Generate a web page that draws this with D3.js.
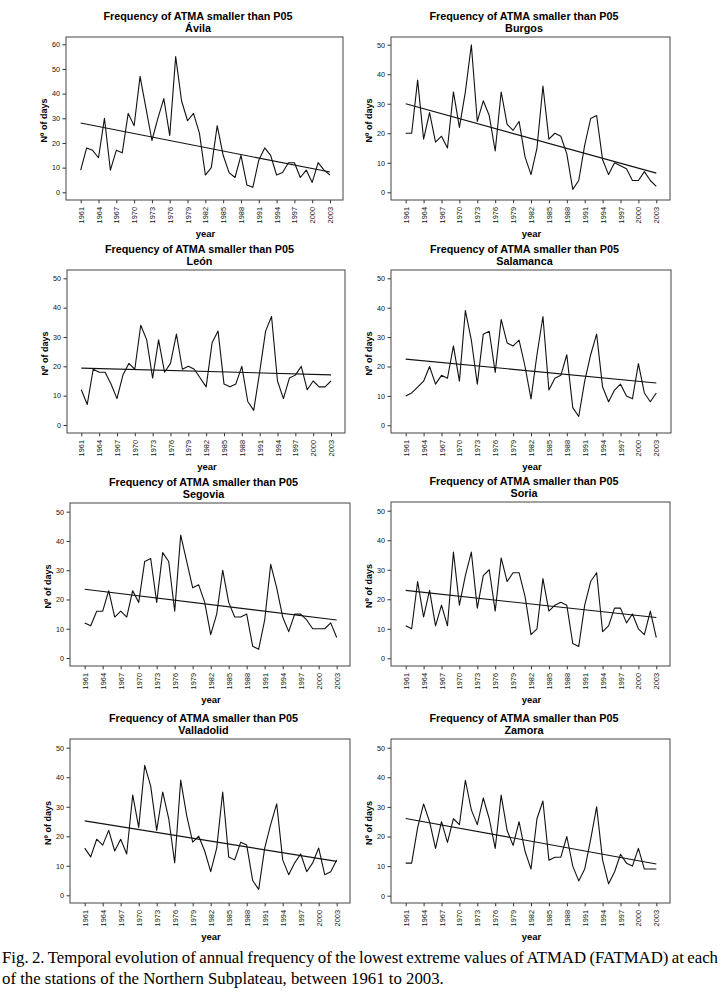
<!DOCTYPE html>
<html><head><meta charset="utf-8">
<script src="https://cdn.jsdelivr.net/npm/d3@7"></script>
<style>
html,body{margin:0;padding:0;background:#fff;}
svg{display:block;}
</style></head>
<body>
<svg id="chart" width="725" height="992"></svg>
<script>
// ---------- DATA ----------
const years = [1961,1962,1963,1964,1965,1966,1967,1968,1969,1970,1971,1972,1973,1974,1975,1976,1977,1978,1979,1980,1981,1982,1983,1984,1985,1986,1987,1988,1989,1990,1991,1992,1993,1994,1995,1996,1997,1998,1999,2000,2001,2002,2003];
const tickYears = [1961,1964,1967,1970,1973,1976,1979,1982,1985,1988,1991,1994,1997,2000,2003];
const stations = ["Ávila","Burgos","León","Salamanca","Segovia","Soria","Valladolid","Zamora"];
const yMaxes = [60,50,50,50,50,50,50,50];
const titleText = "Frequency of ATMA smaller than P05";
const yLabel = "Nº of days";
const xLabel = "year";

const avila      = [9,18,17,14,30,9,17,16,32,27, 47,34,21,30,38,23,55,37,29,32, 24,7,10,27,15,8,6,15,3,2, 13,18,15,7,8,12,12,6,9,4, 12,9,7];
const burgos     = [20,20,38,18,27,17,19,15,34,22, 34,50,24,31,26,14,34,23,21,24, 12,6,15,36,18,20,19,13,1,4, 16,25,26,11,6,10,9,8,4,4, 7,4,2];
const leon       = [12,7,19,18,18,14,9,17,21,19, 34,29,16,29,18,21,31,19,20,19, 16,13,28,32,14,13,14,20,8,5, 18,32,37,15,9,16,17,20,12,15, 13,13,15];
const salamanca  = [10,11,13,15,20,14,17,16,27,15, 39,29,14,31,32,18,36,28,27,29, 20,9,24,37,12,16,17,24,6,3, 15,24,31,13,8,12,14,10,9,21, 11,8,11];
const segovia    = [12,11,16,16,23,14,16,14,23,19, 33,34,19,36,33,16,42,33,24,25, 19,8,15,30,19,14,14,15,4,3, 13,32,24,14,9,15,15,13,10,10, 10,12,7];
const soria      = [11,10,26,14,23,11,18,11,36,18, 28,36,17,28,30,16,34,26,29,29, 21,8,10,27,16,18,19,18,5,4, 18,26,29,9,11,17,17,12,15,10, 8,16,7];
const valladolid = [16,13,19,17,22,15,19,14,34,23, 44,37,22,35,26,11,39,27,18,20, 15,8,16,35,13,12,18,17,5,2, 16,24,31,12,7,11,14,8,11,16, 7,8,12];
const zamora     = [11,11,23,31,25,16,25,18,26,24, 39,29,24,33,26,16,34,22,17,25, 15,9,26,32,12,13,13,20,10,5, 9,19,30,12,4,8,14,11,10,16, 9,9,9];
const series = [avila, burgos, leon, salamanca, segovia, soria, valladolid, zamora];

// linear trend lines (value at 1961, value at 2003)
const trendStart = [28.1, 30.0, 19.4, 22.5, 23.5, 23.0, 25.2, 26.1];
const trendEnd   = [8.2, 6.5, 17.1, 14.4, 13.0, 13.8, 11.5, 10.7];

const captionLines = [
  "Fig. 2. Temporal evolution of annual frequency of the lowest extreme values of ATMAD (FATMAD) at each",
  "of the stations of the Northern Subplateau, between 1961 to 2003."
];

// ---------- LAYOUT ----------
const layout = [
  {frame:[66,37,343,200],  x:[80.7,330],   y:[192.3,44.3]},
  {frame:[391,37,670,200], x:[405.7,656.3],y:[192.3,44.7]},
  {frame:[67,270,345,433], x:[81.3,331],   y:[425,278.3]},
  {frame:[391,270,671,433],x:[405.7,656.3],y:[425.3,278.3]},
  {frame:[70,503,350,666], x:[84.7,336.7], y:[658,511.7]},
  {frame:[391,502,670,666],x:[405.7,656.3],y:[658.3,510.7]},
  {frame:[70,739,350,903], x:[84.7,336.7], y:[895.3,747.7]},
  {frame:[391,739,670,903],x:[405.7,656.3],y:[895.7,747.7]}
];

const svg = d3.select("#chart");
const FONT = "'Liberation Sans', Arial, Helvetica, sans-serif";

stations.forEach((name, i) => {
  const L = layout[i];
  const [l,t,r,b] = L.frame;
  const x = d3.scaleLinear().domain([1961,2003]).range(L.x);
  const y = d3.scaleLinear().domain([0,yMaxes[i]]).range(L.y);
  const g = svg.append("g");

  // titles
  const cx = (l+r)/2 - 6.5;
  g.append("text").attr("x",cx).attr("y",t-17.5).attr("text-anchor","middle")
    .style("font-family",FONT).style("font-weight","bold").style("font-size","10.8px")
    .text(titleText);
  g.append("text").attr("x",cx).attr("y",t-5.2).attr("text-anchor","middle")
    .style("font-family",FONT).style("font-weight","bold").style("font-size","10.8px")
    .text(name);

  // y axis
  const yTicks = d3.range(0, yMaxes[i]+1, 10);
  const ya = d3.axisLeft(y).tickValues(yTicks).tickSize(3.5).tickPadding(2.5).tickFormat(d3.format("d"));
  const yg = g.append("g").attr("transform",`translate(${l},0)`).call(ya);
  yg.select(".domain").remove();
  yg.selectAll("line").attr("stroke","#333");
  yg.selectAll("text").style("font-family",FONT).style("font-size","7.2px").attr("fill","#111");

  // x axis
  const xa = d3.axisBottom(x).tickValues(tickYears).tickSize(3.3).tickFormat(d3.format("d"));
  const xg = g.append("g").attr("transform",`translate(0,${b})`).call(xa);
  xg.select(".domain").remove();
  xg.selectAll("line").attr("stroke","#333");
  xg.selectAll("text")
    .style("font-family",FONT).style("font-size","7.4px").attr("fill","#111")
    .attr("text-anchor","end").attr("dy","0.35em")
    .attr("transform","translate(0,7) rotate(-90)")
    .attr("x",0).attr("y",0);

  // frame
  g.append("rect").attr("x",l).attr("y",t).attr("width",r-l).attr("height",b-t)
    .attr("fill","none").attr("stroke","#444").attr("stroke-width",1);

  // axis labels
  g.append("text").attr("transform",`translate(${l-19},${(t+b)/2+2}) rotate(-90)`)
    .attr("text-anchor","middle")
    .style("font-family",FONT).style("font-weight","bold").style("font-size","9px")
    .text(yLabel);
  g.append("text").attr("x",(l+r)/2+1).attr("y",b+37).attr("text-anchor","middle")
    .style("font-family",FONT).style("font-weight","bold").style("font-size","9.5px")
    .text(xLabel);

  // data line
  const line = d3.line().x((d,k)=>x(years[k])).y(d=>y(d));
  g.append("path").datum(series[i]).attr("d",line)
    .attr("fill","none").attr("stroke","#111").attr("stroke-width",1.1).attr("stroke-linejoin","round");

  // trend line
  g.append("line")
    .attr("x1",x(years[0])).attr("y1",y(trendStart[i]))
    .attr("x2",x(years[years.length-1])).attr("y2",y(trendEnd[i]))
    .attr("stroke","#111").attr("stroke-width",1.1);
});

// caption (first line justified with word spacing)
const cap = svg.append("g").selectAll("text").data(captionLines).join("text")
  .attr("x",2).attr("y",(d,k)=>963+k*21)
  .style("font-family","'Liberation Serif', 'Times New Roman', serif")
  .style("font-size","16.8px").attr("fill","#000")
  .text(d=>d);
cap.each(function(d,k){
  if (k === 0) {
    const sel = d3.select(this);
    let w = this.getComputedTextLength();
    const spaces = (d.match(/ /g) || []).length;
    let extra = (716 - w) / spaces;
    if (extra < -2.2) {
      // compress letters slightly too, as in the tightly set original
      const chars = d.length;
      const ls = Math.max(-0.4, (716 - w + 2.2*spaces) / chars);
      sel.style("letter-spacing", ls + "px");
      w = this.getComputedTextLength();
      extra = (716 - w) / spaces;
    }
    sel.style("word-spacing", extra + "px");
  }
});
</script>
</body></html>
